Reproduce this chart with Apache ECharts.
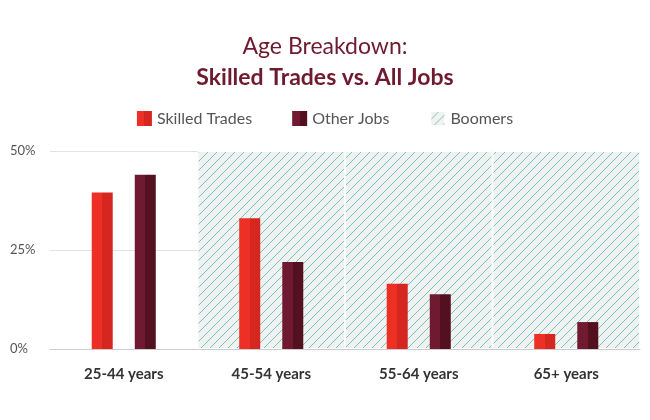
<!DOCTYPE html><html><head><meta charset="utf-8">
<script src="https://cdn.jsdelivr.net/npm/echarts@6/dist/echarts.min.js"></script>
<style>html,body{margin:0;background:#fff}#c{width:650px;height:420px}</style></head><body><div id="c"></div>
<script>
const categories=['25-44 years','45-54 years','55-64 years','65+ years'];
const skilled=[39.5,33,16.5,3.8];
const other=[44,22,13.8,6.8];
const boomers=[null,50,50,50];
const yTicks=[0,25,50];

const cv=document.createElement('canvas');cv.width=9;cv.height=9;
const g=cv.getContext('2d');g.fillStyle='#f1f1f1';g.fillRect(0,0,9,9);
g.strokeStyle='#72c9b3';g.lineWidth=1;
for(const o of [-9,0,9]){g.beginPath();g.moveTo(o,9);g.lineTo(o+9,0);g.stroke();}
const hatch={image:cv,repeat:'repeat'};
function two(a,b){return {type:'linear',x:0,y:0,x2:1,y2:0,colorStops:[{offset:0,color:a},{offset:0.5,color:a},{offset:0.5,color:b},{offset:1,color:b}]};}
const font='Lato, "Open Sans", sans-serif';
const ch=echarts.init(document.getElementById('c'));
ch.setOption({
 animation:false,
 title:{left:'center',top:30,text:'Age Breakdown:',subtext:'Skilled Trades vs. All Jobs',itemGap:8,
  textStyle:{color:'#6e1b2f',fontSize:23,fontWeight:'normal',fontFamily:font},
  subtextStyle:{color:'#6e1b2f',fontSize:23,fontWeight:'bold',fontFamily:font}},
 legend:{top:105,left:'center',itemWidth:15,itemHeight:15,itemGap:40,icon:'rect',
  textStyle:{color:'#555',fontSize:16,fontFamily:font},data:['Skilled Trades','Other Jobs','Boomers']},
 grid:{left:50,right:10,top:151,bottom:71},
 xAxis:[{type:'category',data:categories,axisTick:{show:false},axisLine:{lineStyle:{color:'#ccc'}},
   axisLabel:{color:'#333',fontWeight:'bold',fontSize:15,margin:18,fontFamily:font}},
  {type:'category',data:categories,show:false}],
 yAxis:{type:'value',min:0,max:50,interval:25,axisLabel:{formatter:'{value}%',color:'#555',fontSize:13,align:'left',margin:40,fontFamily:font},
  splitLine:{lineStyle:{color:'#e2e2e2'}}},
 series:[
  {name:'Boomers',type:'bar',xAxisIndex:1,data:boomers,barWidth:'100%',itemStyle:{color:hatch,borderColor:'#fff',borderWidth:1},z:1,silent:true},
  {name:'Skilled Trades',type:'bar',data:skilled,barWidth:21,barGap:'105%',itemStyle:{color:two('#ee2f25','#d5261f')},z:3},
  {name:'Other Jobs',type:'bar',data:other,barWidth:21,itemStyle:{color:two('#6f1a31','#53111f')},z:3}
 ]
});
</script></body></html>
